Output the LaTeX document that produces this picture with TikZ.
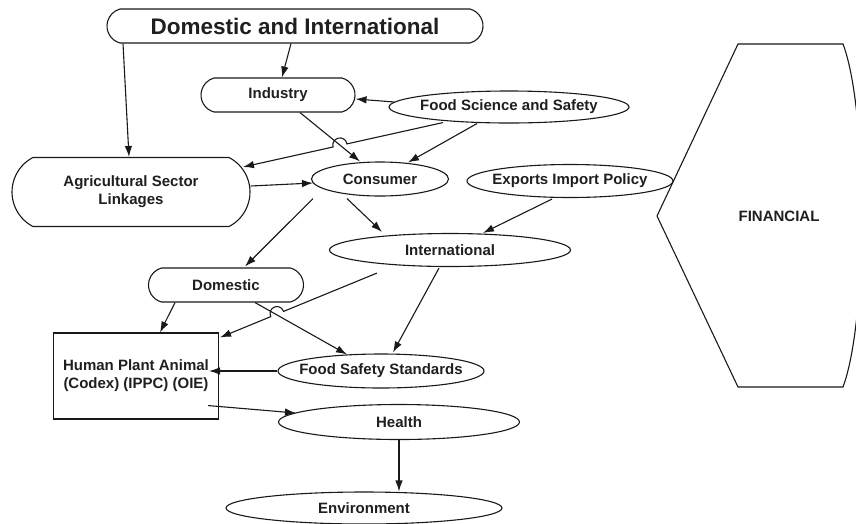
\documentclass[tikz,border=0pt]{standalone}
\usepackage{fontspec}
\setmainfont{Liberation Sans}
\usetikzlibrary{calc,shapes.geometric,shapes.misc,arrows.meta}

\tikzset{
	lbl/.style={font=\fontsize{15pt}{18pt}\selectfont\bfseries, text=black!88, align=center},
	pill/.style={lbl, draw, rounded rectangle, rounded rectangle arc length=150, inner sep=0pt},
	oval/.style={lbl, draw, ellipse, inner sep=-30pt},
	arr/.style={-{Latex[length=11pt,width=7.5pt]}},
}

\begin{document}
\begin{tikzpicture}[x=1pt, y=-1pt, line width=1.1pt, draw=black!90]
			%%%%% START %%%%%
			\useasboundingbox (0,0) rectangle (856,523);
			
			\node[pill, minimum width=376pt, minimum height=34pt, font=\fontsize{22.5pt}{26pt}\selectfont\bfseries] (domint) at (295,26) {Domestic and International};
			\node[pill, minimum width=154pt, minimum height=34pt] (industry) at (278,95) {Industry};
			\node[oval, minimum width=240pt, minimum height=32pt] (fsci) at (509,107) {Food Science and Safety};
			\node[pill, rounded rectangle arc length=125, minimum width=238pt, minimum height=69pt] (agri) at (131,192) {Agricultural Sector\\Linkages};
			\node[oval, minimum width=137pt, minimum height=34pt] (consumer) at (380,179) {Consumer};
			\node[oval, minimum width=206pt, minimum height=33pt] (exports) at (570,181) {Exports Import Policy};
			\node[oval, minimum width=241pt, minimum height=33pt] (intl) at (450,250) {International};
			\node[pill, minimum width=155pt, minimum height=34pt] (domestic) at (226,285) {Domestic};
			\node[lbl, draw, rectangle, minimum width=165pt, minimum height=86pt, inner sep=0pt] (hpa) at (136,376) {Human Plant Animal\\(Codex) (IPPC) (OIE)};
			\node[oval, minimum width=206pt, minimum height=34pt] (fsstd) at (381,371) {Food Safety Standards};
			\node[oval, minimum width=241pt, minimum height=35pt] (health) at (399,422) {Health};
			\node[oval, minimum width=276pt, minimum height=32pt] (env) at (364,508) {Environment};
			
			\draw (738,44) -- (843,44) .. controls (868,110) and (868,320) .. (843,387) -- (738,387) -- (657,216) -- cycle;
			\node[lbl] (fin) at (779,216) {FINANCIAL};
			
			\draw[arr] ([shift={(-172,0)}]domint.south) -- ([shift={(-2,0)}]agri.north);
			\draw[arr] ([shift={(-4,0)}]domint.south) -- ([shift={(4,0)}]industry.north);
			\draw[arr] ([shift={(6,-5)}]fsci.west) -- ([shift={(0,4)}]industry.east);
			\draw[arr] ([shift={(22,0)}]industry.south) -- ([shift={(-20,0)}]consumer.north);
			
			\coordinate (fsA) at ([shift={(-66,-1)}]fsci.south);
			\coordinate (agB) at ([shift={(112,-25)}]agri.center);
			\coordinate (hopA1) at ($(fsA)!0.48!(agB)$);
			\coordinate (hopA2) at ($(fsA)!0.55!(agB)$);
			\draw[arr] (fsA) -- (hopA1) .. controls ($(hopA1)!10pt!-90:(agB)$) and ($(hopA2)!10pt!90:(fsA)$) .. (hopA2) -- (agB);
			
			\draw[arr] ([shift={(-32,0)}]fsci.south) -- ([shift={(28,1)}]consumer.north);
			\draw[arr] ([shift={(0,-6)}]agri.east) -- ([shift={(2,4)}]consumer.west);
			\draw[arr] ([shift={(-67,2)}]consumer.south) -- ([shift={(19,-1)}]domestic.north);
			\draw[arr] ([shift={(-33,2)}]consumer.south) -- ([shift={(-68,-1)}]intl.north);
			\draw[arr] ([shift={(-18,1)}]exports.south) -- ([shift={(33,0)}]intl.north);
			
			\coordinate (inA) at ([shift={(-73,6)}]intl.south);
			\coordinate (hpB) at ([shift={(1,5)}]hpa.north east);
			\coordinate (hopB1) at ($(inA)!0.595!(hpB)$);
			\coordinate (hopB2) at ($(inA)!0.677!(hpB)$);
			\draw[arr] (inA) -- (hopB1) .. controls ($(hopB1)!10pt!-90:(hpB)$) and ($(hopB2)!10pt!90:(inA)$) .. (hopB2) -- (hpB);
			
			\draw[arr] ([shift={(-11,1)}]intl.south) -- ([shift={(12,-1)}]fsstd.north);
			\draw[arr] ([shift={(-51,0)}]domestic.south) -- ([shift={(24,0)}]hpa.north);
			\draw[arr] ([shift={(29,0)}]domestic.south) -- ([shift={(-34,1)}]fsstd.north);
			\draw[arr] (fsstd.west) -- ([shift={(-10,-5)}]hpa.east);
			\draw[arr] ([shift={(-11,-14)}]hpa.south east) -- ([shift={(18,-9)}]health.west);
			\draw[arr] (health.south) -- (health.south |- env.north);
			
			%%%%% END %%%%%
\end{tikzpicture}
\end{document}
